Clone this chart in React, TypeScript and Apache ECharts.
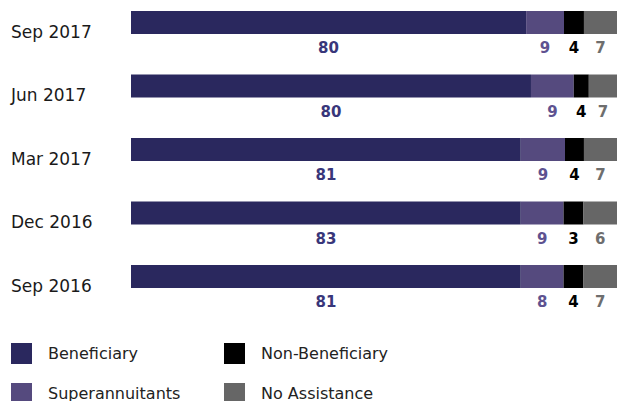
import React, { useEffect, useRef } from "react";
import * as echarts from "echarts";

const categories = ["Sep 2017", "Jun 2017", "Mar 2017", "Dec 2016", "Sep 2016"];
const seriesNames = ["Beneficiary", "Superannuitants", "Non-Beneficiary", "No Assistance"];

// Bar lengths (share of bar width)
const beneficiary = [81.3, 82.3, 80.2, 80.2, 80.2];
const superannuitants = [7.8, 8.8, 9.1, 8.8, 8.8];
const nonBeneficiary = [4.1, 3.1, 3.9, 4.1, 4.1];
const noAssistance = [6.8, 5.8, 6.8, 6.9, 6.9];

// Printed value labels
const beneficiaryLabels = [80, 80, 81, 83, 81];
const superannuitantsLabels = [9, 9, 9, 9, 8];
const nonBeneficiaryLabels = [4, 4, 4, 3, 4];
const noAssistanceLabels = [7, 7, 7, 6, 7];

const barColors = ["#2a285e", "#554a7e", "#000000", "#666666"];
const labelColors = ["#38367a", "#5e5290", "#000000", "#6e6e6e"];

// legend placement (column, row) for each series
const legendSpots = [
  { left: 11, top: 343 },
  { left: 11, top: 383 },
  { left: 224, top: 343 },
  { left: 224, top: 383 },
];

export default function App() {
  const ref = useRef<HTMLDivElement>(null);

  useEffect(() => {
    if (!ref.current) return;
    const chart = echarts.init(ref.current, undefined, { renderer: "svg" });
    const values = [beneficiary, superannuitants, nonBeneficiary, noAssistance];
    const labels = [beneficiaryLabels, superannuitantsLabels, nonBeneficiaryLabels, noAssistanceLabels];

    chart.setOption({
      animation: false,
      grid: { left: 131, right: 0, top: 22.5, height: 254, containLabel: false },
      legend: seriesNames.map((name, i) => ({
        left: legendSpots[i].left,
        top: legendSpots[i].top,
        padding: 0,
        itemWidth: 21,
        itemHeight: 21,
        icon: "rect",
        selectedMode: false,
        data: [name],
        textStyle: {
          fontFamily: "DejaVu Sans",
          fontSize: 16,
          color: "#222222",
          padding: [0, 0, 0, 11],
        },
      })),
      xAxis: { type: "value", min: 0, max: 100, show: false },
      yAxis: {
        type: "category",
        data: categories,
        inverse: true,
        boundaryGap: false,
        axisLine: { show: false },
        axisTick: { show: false },
        splitLine: { show: false },
        axisLabel: {
          align: "left",
          verticalAlign: "top",
          margin: 120,
          fontFamily: "DejaVu Sans",
          fontSize: 17,
          lineHeight: 18,
          color: "#1a1a1a",
        },
      },
      series: seriesNames.map((name, i) => ({
        name,
        type: "bar",
        stack: "total",
        barWidth: 23,
        data: values[i],
        itemStyle: { color: barColors[i] },
        emphasis: { disabled: true },
        label: {
          show: true,
          position: "bottom",
          distance: 6.5,
          fontFamily: "DejaVu Sans",
          fontWeight: "bold",
          fontSize: 15,
          color: labelColors[i],
          formatter: (p: any) => String(labels[i][p.dataIndex]),
        },
      })),
    });

    return () => chart.dispose();
  }, []);

  return (
    <div
      ref={ref}
      style={{ position: "fixed", left: 0, top: 0, width: 617, height: 401, background: "#ffffff" }}
    />
  );
}
